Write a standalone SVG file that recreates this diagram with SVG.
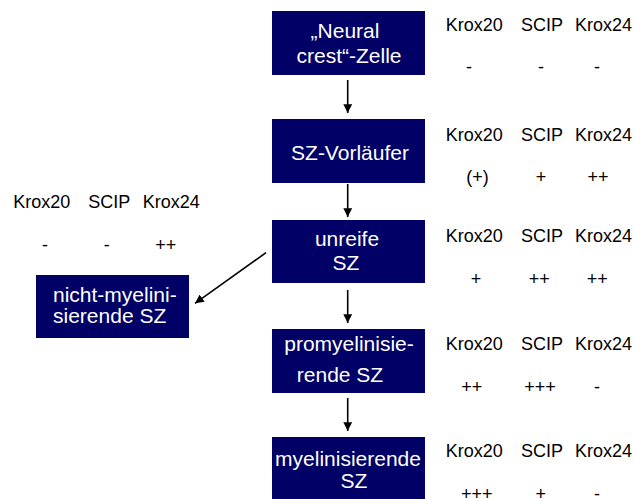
<svg xmlns="http://www.w3.org/2000/svg" width="634" height="499" viewBox="0 0 634 499">
<defs>
<style>
.box{fill:#000066}
.bt{font-family:"Liberation Sans",Arial,sans-serif;font-size:21px;fill:#ffffff;text-anchor:middle}
.lt{font-family:"Liberation Sans",Arial,sans-serif;font-size:18px;fill:#000000}
.vt{font-family:"Liberation Sans",Arial,sans-serif;font-size:18px;fill:#000000;text-anchor:middle}
.ln{stroke:#000000;stroke-width:1.6;fill:none;marker-end:url(#ah)}
</style>
<marker id="ah" viewBox="0 0 10 10" refX="10" refY="5" markerWidth="5.5" markerHeight="5.5" orient="auto" markerUnits="strokeWidth">
<path d="M0,0 L10,5 L0,10 Z" fill="#000000"/>
</marker>
</defs>
<rect width="634" height="499" fill="#ffffff"/>
<g id="node-neural">
<rect class="box" x="272" y="11" width="153" height="64"/>
<text class="bt" x="345" y="38">„Neural</text>
<text class="bt" x="349" y="63">crest“-Zelle</text>
</g>
<g id="node-vorlaeufer">
<rect class="box" x="272" y="119" width="153" height="64"/>
<text class="bt" x="350" y="160">SZ-Vorläufer</text>
</g>
<g id="node-unreife">
<rect class="box" x="272" y="220" width="153" height="63"/>
<text class="bt" x="347" y="246">unreife</text>
<text class="bt" x="346" y="270">SZ</text>
</g>
<g id="node-promyel">
<rect class="box" x="272" y="329" width="153" height="64"/>
<text class="bt" x="349" y="351">promyelinisie-</text>
<text class="bt" x="340" y="381.5">rende SZ</text>
</g>
<g id="node-myel">
<rect class="box" x="272" y="437" width="153" height="64"/>
<text class="bt" x="348" y="466">myelinisierende</text>
<text class="bt" x="354" y="488">SZ</text>
</g>
<g id="node-nichtmyel">
<rect class="box" x="36" y="275" width="153" height="63"/>
<text class="bt" x="53" y="302" style="text-anchor:start">nicht-myelini-</text>
<text class="bt" x="53" y="323" style="text-anchor:start">sierende SZ</text>
</g>
<g id="labels">
<text class="lt" x="445.7" y="31">Krox20</text><text class="lt" x="521" y="31">SCIP</text><text class="lt" x="575" y="31">Krox24</text>
<text class="vt" x="469" y="73">-</text><text class="vt" x="541" y="73">-</text><text class="vt" x="597" y="73">-</text>
<text class="lt" x="445.7" y="141">Krox20</text><text class="lt" x="521" y="141">SCIP</text><text class="lt" x="575" y="141">Krox24</text>
<text class="vt" x="477.5" y="183">(+)</text><text class="vt" x="541" y="183">+</text><text class="vt" x="598" y="183">++</text>
<text class="lt" x="445.7" y="241.7">Krox20</text><text class="lt" x="521" y="241.7">SCIP</text><text class="lt" x="575" y="241.7">Krox24</text>
<text class="vt" x="476" y="284.5">+</text><text class="vt" x="539.3" y="284.5">++</text><text class="vt" x="597.3" y="284.5">++</text>
<text class="lt" x="445.7" y="350">Krox20</text><text class="lt" x="521" y="350">SCIP</text><text class="lt" x="575" y="350">Krox24</text>
<text class="vt" x="471.7" y="393">++</text><text class="vt" x="540" y="393">+++</text><text class="vt" x="597" y="393">-</text>
<text class="lt" x="445.7" y="456.7">Krox20</text><text class="lt" x="521" y="456.7">SCIP</text><text class="lt" x="575" y="456.7">Krox24</text>
<text class="vt" x="476.7" y="499.5">+++</text><text class="vt" x="540.7" y="499.5">+</text><text class="vt" x="597" y="499.5">-</text>
<text class="lt" x="13.3" y="208.3">Krox20</text><text class="lt" x="88.3" y="208.3">SCIP</text><text class="lt" x="142.7" y="208.3">Krox24</text>
<text class="vt" x="45" y="251">-</text><text class="vt" x="106.7" y="251">-</text><text class="vt" x="165.7" y="251">++</text>
</g>
<g id="connectors">
<line class="ln" x1="347.7" y1="80" x2="347.7" y2="113"/>
<line class="ln" x1="347.7" y1="184" x2="347.7" y2="217"/>
<line class="ln" x1="347.7" y1="290" x2="347.7" y2="323"/>
<line class="ln" x1="347.7" y1="398" x2="347.7" y2="431"/>
<line class="ln" x1="266" y1="252.7" x2="195" y2="303.3"/>
</g>
</svg>
